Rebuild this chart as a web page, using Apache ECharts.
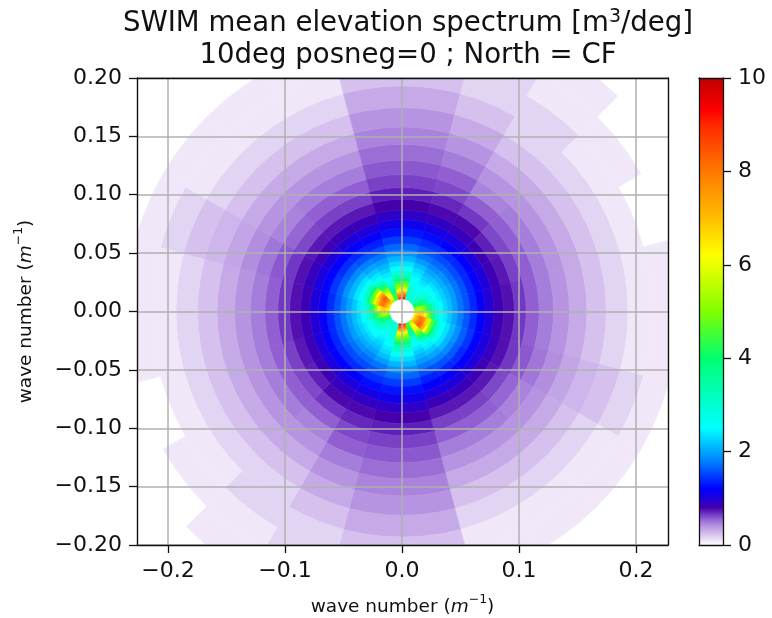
<!DOCTYPE html>
<html><head><meta charset="utf-8">
<style>html,body{margin:0;padding:0;background:#fff}#c{width:772px;height:618px}</style>
<script src="https://cdn.jsdelivr.net/npm/echarts@6/dist/echarts.min.js"></script>
</head><body><div id="c"></div>
<script>
// radial bin edges (wave number, 1/m), 33 edges = 32 rings
const kEdges = [0.0107,0.0118,0.0131,0.0144,0.0159,0.0176,0.0195,0.0215,0.0238,0.0262,0.029,0.032,0.0354,0.0391,0.0432,0.0478,0.0528,0.0583,0.0644,0.0712,0.0787,0.0869,0.0961,0.1062,0.1173,0.1296,0.1432,0.1581,0.1747,0.1932,0.2136,0.2359,0.2607];
const sectorWidthDeg = 15;
// spectrum per 15 deg direction bin, clockwise from north, rings inner to outer; the opposite half repeats it
const s00 = [9.2,9.0,8.4,8.0,7.2,6.3,5.6,5.0,4.5,3.9,3.4,3.0,2.6,2.35,2.1,1.9,1.68,1.48,1.3,1.1,.92,.8,.72,.64,.58,.52,.46,.40,.32,.24,.16,.08];
const s01 = [3.0,3.0,3.0,3.0,3.0,3.0,2.9,2.8,2.7,2.6,2.5,2.4,2.3,2.15,1.95,1.75,1.58,1.42,1.25,1.05,.9,.78,.70,.62,.56,.48,.40,.32,.24,.16,.16,0];
const s02 = [3.0,3.0,2.9,2.9,2.8,2.8,2.7,2.6,2.5,2.45,2.35,2.25,2.15,2.0,1.85,1.7,1.55,1.4,1.2,1.02,.88,.78,.66,.56,.46,.40,.32,.24,.16,.16,.08,.08];
const s03 = [3.1,3.1,3.1,3.1,3.1,3.1,3.0,2.9,2.75,2.6,2.5,2.35,2.2,2.05,1.9,1.72,1.55,1.38,1.18,1.0,.84,.72,.62,.56,.48,.40,.32,.24,.16,.08,.08,0];
const s04 = [4.0,4.1,4.2,4.2,4.1,3.9,3.6,3.3,3.0,2.75,2.55,2.4,2.25,2.1,1.95,1.75,1.58,1.38,1.18,1.0,.84,.74,.64,.56,.48,.40,.32,.24,.16,.08,0,0];
const s05 = [5.0,5.2,5.4,5.4,5.3,5.0,4.6,4.2,3.7,3.1,2.8,2.5,2.3,2.15,1.95,1.75,1.58,1.38,1.15,.98,.84,.76,.66,.56,.48,.40,.32,.24,.16,.08,.08,0];
const s06 = [6.0,6.4,6.6,6.8,6.8,6.6,6.0,5.2,4.4,3.6,3.0,2.65,2.4,2.2,2.0,1.8,1.6,1.4,1.18,1.0,.84,.76,.66,.56,.48,.40,.32,.24,.16,.08,.08,0];
const s07 = [6.4,6.8,7.2,7.6,8.0,8.0,7.6,6.8,5.8,4.7,3.7,3.0,2.6,2.35,2.1,1.9,1.65,1.45,1.22,1.02,.88,.76,.66,.58,.50,.42,.34,.28,.24,.16,.08,0];
const s08 = [6.5,7.0,7.4,7.8,8.2,8.4,8.0,7.2,6.2,5.0,3.9,3.1,2.6,2.35,2.1,1.85,1.62,1.4,1.18,1.0,.84,.74,.62,.54,.46,.40,.32,.24,.16,.08,.08,0];
const s09 = [5.0,5.4,5.8,6.0,6.2,6.0,5.6,5.0,4.4,3.7,3.1,2.7,2.4,2.2,2.0,1.8,1.58,1.38,1.18,1.0,.86,.74,.64,.56,.48,.40,.32,.24,.16,.08,.08,0];
const s10 = [4.2,4.4,4.4,4.3,4.1,3.9,3.6,3.3,3.0,2.75,2.55,2.4,2.25,2.1,1.95,1.75,1.55,1.35,1.18,1.0,.86,.74,.64,.56,.48,.40,.32,.24,.16,.08,.08,0];
const s11 = [8.6,8.4,8.0,7.6,6.8,6.0,5.4,4.9,4.4,3.8,3.3,2.9,2.55,2.3,2.1,1.88,1.68,1.48,1.28,1.08,.92,.8,.72,.64,.58,.52,.46,.40,.32,.24,.16,.08];
const sectorProfiles = [s00,s01,s02,s03,s04,s05,s06,s07,s08,s09,s10,s11];
const xTickValues = [-0.2,-0.1,0,0.1,0.2];
const yMinMax = [-0.2,0.2];
const xMinMax = [-0.2265,0.2274];
const cbarRange = [0,10];
// colormap: value -> rgb
const cmapValues = [0,.08,.16,.24,.32,.40,.48,.56,.64,.72,.80,1.0,1.2,1.8,2.5,3.2,4.0,5.0,6.2,7.0,8.0,9.0,9.3,10];
const cmapColors = [[255,255,255],[240,232,248],[226,212,243],[213,192,238],[198,170,232],[183,148,225],[165,125,218],[145,95,210],[120,65,198],[95,30,185],[70,0,170],[30,0,220],[0,0,255],[0,130,255],[0,255,255],[0,255,190],[0,255,110],[128,255,0],[255,255,0],[255,190,0],[255,120,0],[255,40,0],[255,0,0],[190,0,0]];

function colorAt(v){
  let i=0; while(i<cmapValues.length-2 && v>cmapValues[i+1]) i++;
  const t=Math.max(0,Math.min(1,(v-cmapValues[i])/(cmapValues[i+1]-cmapValues[i])));
  const a=cmapColors[i],b=cmapColors[i+1];
  return 'rgb('+a.map((c,j)=>Math.round(c+(b[j]-c)*t)).join(',')+')';
}
const cells=[];
for(let half=0;half<2;half++) sectorProfiles.forEach((p,s)=>p.forEach((v,r)=>{ if(v>0) cells.push([s+half*12,r,v]); }));
function pt(api,s,r){const a=s*sectorWidthDeg*Math.PI/180,k=kEdges[r];return api.coord([k*Math.sin(a),k*Math.cos(a)]);}
const arcSteps=[0,1/3,2/3,1];
const font='"DejaVu Sans"';
const tickFs=22, black='#111';
const nameStyle={fontFamily:font,fontSize:18.5,lineHeight:28,color:black,rich:{i:{fontFamily:font,fontStyle:'italic',fontSize:18.5,lineHeight:28,color:black},s:{fontFamily:font,fontSize:12.5,lineHeight:16,verticalAlign:'top',color:black}}};
const chart=echarts.init(document.getElementById('c'),null,{renderer:'canvas'});
const axisLine={show:true,onZero:false,lineStyle:{color:black,width:1.4}};
const tick={show:true,length:8,lineStyle:{color:black,width:1.3}};
chart.setOption({
  animation:false,
  title:{text:'SWIM mean elevation spectrum [m{s|3}/deg]\n10deg posneg=0 ; North = CF',left:403,top:3,textAlign:'center',
    textStyle:{fontFamily:font,fontSize:27.6,fontWeight:'normal',color:black,lineHeight:32,
      rich:{s:{fontFamily:font,fontSize:19,verticalAlign:'top',lineHeight:32,color:black,padding:[0,0,6,0]}}}},
  grid:[{left:137,top:78,width:531,height:467,outerBoundsMode:'none'},{left:699,top:78,width:24,height:467,outerBoundsMode:'none'}],
  xAxis:[
   {gridIndex:0,type:'value',min:xMinMax[0],max:xMinMax[1],z:5,
    axisLine,axisTick:{...tick,customValues:xTickValues},
    axisLabel:{customValues:xTickValues,color:black,fontFamily:font,fontSize:tickFs,margin:15,formatter:v=>v.toFixed(1).replace('-','\u2212')},
    splitLine:{show:true,lineStyle:{color:'#b0b0b0',width:1.5}},
    name:'wave number ({i|m}{s|\u22121})',nameLocation:'middle',nameGap:48,nameTextStyle:nameStyle},
   {gridIndex:0,type:'value',position:'top',min:xMinMax[0],max:xMinMax[1],z:5,axisLine,axisTick:{show:false},axisLabel:{show:false},splitLine:{show:false}},
   {gridIndex:1,type:'value',min:0,max:1,show:true,z:5,axisLine:{show:true,onZero:false,lineStyle:{color:black,width:1.3}},axisTick:{show:false},axisLabel:{show:false},splitLine:{show:false}},
   {gridIndex:1,type:'value',position:'top',min:0,max:1,show:true,z:5,axisLine:{show:true,onZero:false,lineStyle:{color:black,width:1.3}},axisTick:{show:false},axisLabel:{show:false},splitLine:{show:false}}
  ],
  yAxis:[
   {gridIndex:0,type:'value',min:yMinMax[0],max:yMinMax[1],interval:0.05,z:5,
    axisLine,axisTick:tick,
    axisLabel:{color:black,fontFamily:font,fontSize:tickFs,margin:15,formatter:v=>v.toFixed(2).replace('-','\u2212')},
    splitLine:{show:true,lineStyle:{color:'#b0b0b0',width:1.5}},
    name:'wave number ({i|m}{s|\u22121})',nameLocation:'middle',nameGap:97,nameTextStyle:nameStyle},
   {gridIndex:0,type:'value',position:'right',min:yMinMax[0],max:yMinMax[1],interval:0.05,z:5,axisLine,axisTick:{show:false},axisLabel:{show:false},splitLine:{show:false}},
   {gridIndex:1,type:'value',position:'right',min:cbarRange[0],max:cbarRange[1],interval:2,z:5,
    axisLine:{show:true,onZero:false,lineStyle:{color:black,width:1.3}},axisTick:tick,
    axisLabel:{color:black,fontFamily:font,fontSize:tickFs,margin:15},splitLine:{show:false}},
   {gridIndex:1,type:'value',position:'left',min:cbarRange[0],max:cbarRange[1],interval:2,z:5,
    axisLine:{show:true,onZero:false,lineStyle:{color:black,width:1.3}},axisTick:{show:false},axisLabel:{show:false},splitLine:{show:false}}
  ],
  series:[
   {type:'custom',xAxisIndex:0,yAxisIndex:0,data:cells,encode:{x:[],y:[]},silent:true,z:2,
    renderItem(params,api){
      const s=api.value(0),r=api.value(1),v=api.value(2),c=colorAt(v),cs=params.coordSys;
      const inner=arcSteps.map(t=>pt(api,s+t,r)),outer=arcSteps.map(t=>pt(api,s+1-t,r+1));
      return {type:'polygon',shape:{points:inner.concat(outer)},
        style:{fill:c,stroke:c,lineWidth:0.6},
        clipPath:{type:'rect',shape:{x:cs.x,y:cs.y,width:cs.width,height:cs.height}}};
    }},
   {type:'custom',xAxisIndex:2,yAxisIndex:2,data:[[0,cbarRange[0],1,cbarRange[1]]],encode:{x:[0,2],y:[1,3]},silent:true,z:2,
    renderItem(params,api){
      const a=api.coord([api.value(0),api.value(1)]),b=api.coord([api.value(2),api.value(3)]);
      const stops=cmapValues.map((v,i)=>({offset:v/cbarRange[1],color:'rgb('+cmapColors[i].join(',')+')'}));
      return {type:'rect',shape:{x:a[0],y:b[1],width:b[0]-a[0],height:a[1]-b[1]},
        style:{fill:new echarts.graphic.LinearGradient(0,1,0,0,stops)}};
    }}
  ]
});
</script></body></html>
